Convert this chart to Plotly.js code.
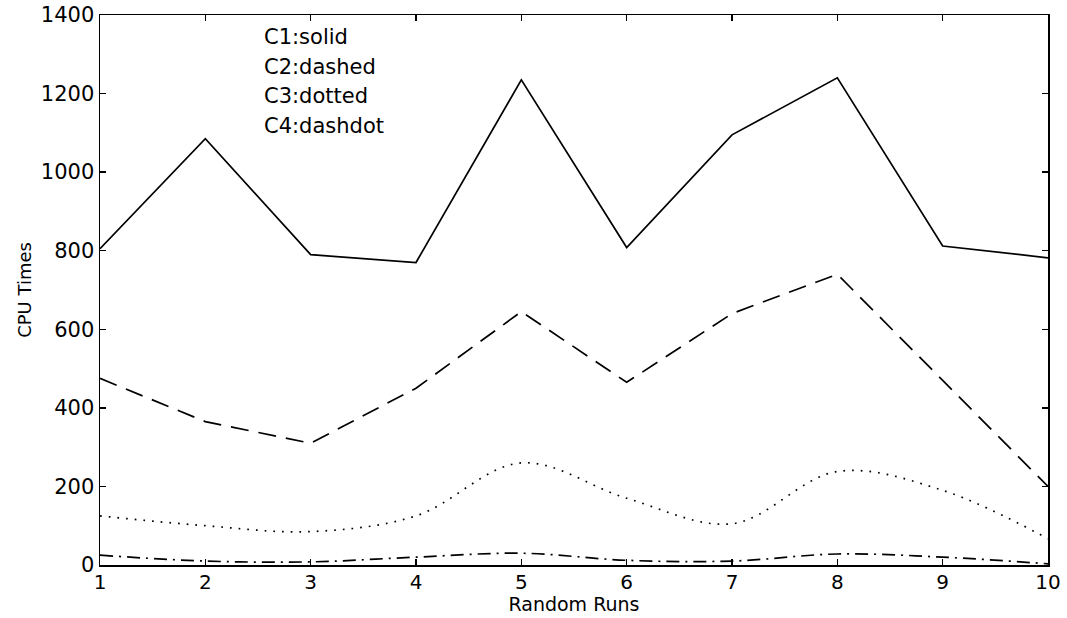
<!DOCTYPE html>
<html><head><meta charset="utf-8">
<script src="https://cdn.plot.ly/plotly-3.0.1.min.js"></script>
<style>body{margin:0;background:#fff}#chart{width:1067px;height:618px}</style>
</head><body><div id="chart"></div>
<script>
const runs = [1,2,3,4,5,6,7,8,9,10];
const c1 = [805,1085,790,770,1235,808,1095,1240,812,782];
const c2 = [475,365,310,450,645,465,640,740,470,200];
const c3 = [125,100,85,125,260,170,105,238,190,67];
const c4 = [25,10,8,20,30,12,10,28,20,3];
const legendLabels = ['C1:solid','C2:dashed','C3:dotted','C4:dashdot'];

const mk = (y, dash, shape) => ({x: runs, y: y, type:'scatter', mode:'lines',
  line:{color:'#000', width:1.7, dash: dash, shape: shape}, showlegend:false, hoverinfo:'skip'});
const data = [
  mk(c1,'solid','linear'),
  mk(c2,'18px,10px','linear'),
  mk(c3,'1.7px,7px','spline'),
  mk(c4,'13px,6px,2px,6px','spline')
];
const font = {family:'"DejaVu Sans", "Liberation Sans", Arial, sans-serif', color:'#000'};
const annotations = legendLabels.map((t,i)=>({
  xref:'paper', yref:'paper', x:0.171, y:0.96 - i*0.054, xanchor:'left', yanchor:'middle',
  text:t, showarrow:false, font:Object.assign({size:21}, font)
}));
const layout = {
  width:1067, height:618,
  margin:{l:100, r:19, t:15, b:53},
  paper_bgcolor:'#fff', plot_bgcolor:'#fff',
  font:font,
  xaxis:{range:[1,10], tickvals:runs, ticks:'inside', ticklen:6, tickwidth:1.5, tickcolor:'#000',
    showline:true, linecolor:'#000', linewidth:1.5, mirror:'ticks', showgrid:false, zeroline:false,
    tickfont:Object.assign({size:20}, font), ticklabelstandoff:-2,
    title:{text:'Random Runs', font:Object.assign({size:19}, font), standoff:4}},
  yaxis:{range:[0,1400], tickvals:[0,200,400,600,800,1000,1200,1400], ticks:'inside', ticklen:6, tickwidth:1.5, tickcolor:'#000',
    showline:true, linecolor:'#000', linewidth:1.5, mirror:'ticks', showgrid:false, zeroline:false,
    tickfont:Object.assign({size:21}, font),
    title:{text:'CPU Times', font:Object.assign({size:18}, font), standoff:4}},
  annotations:annotations
};
Plotly.newPlot('chart', data, layout, {displayModeBar:false, staticPlot:true});
</script></body></html>
